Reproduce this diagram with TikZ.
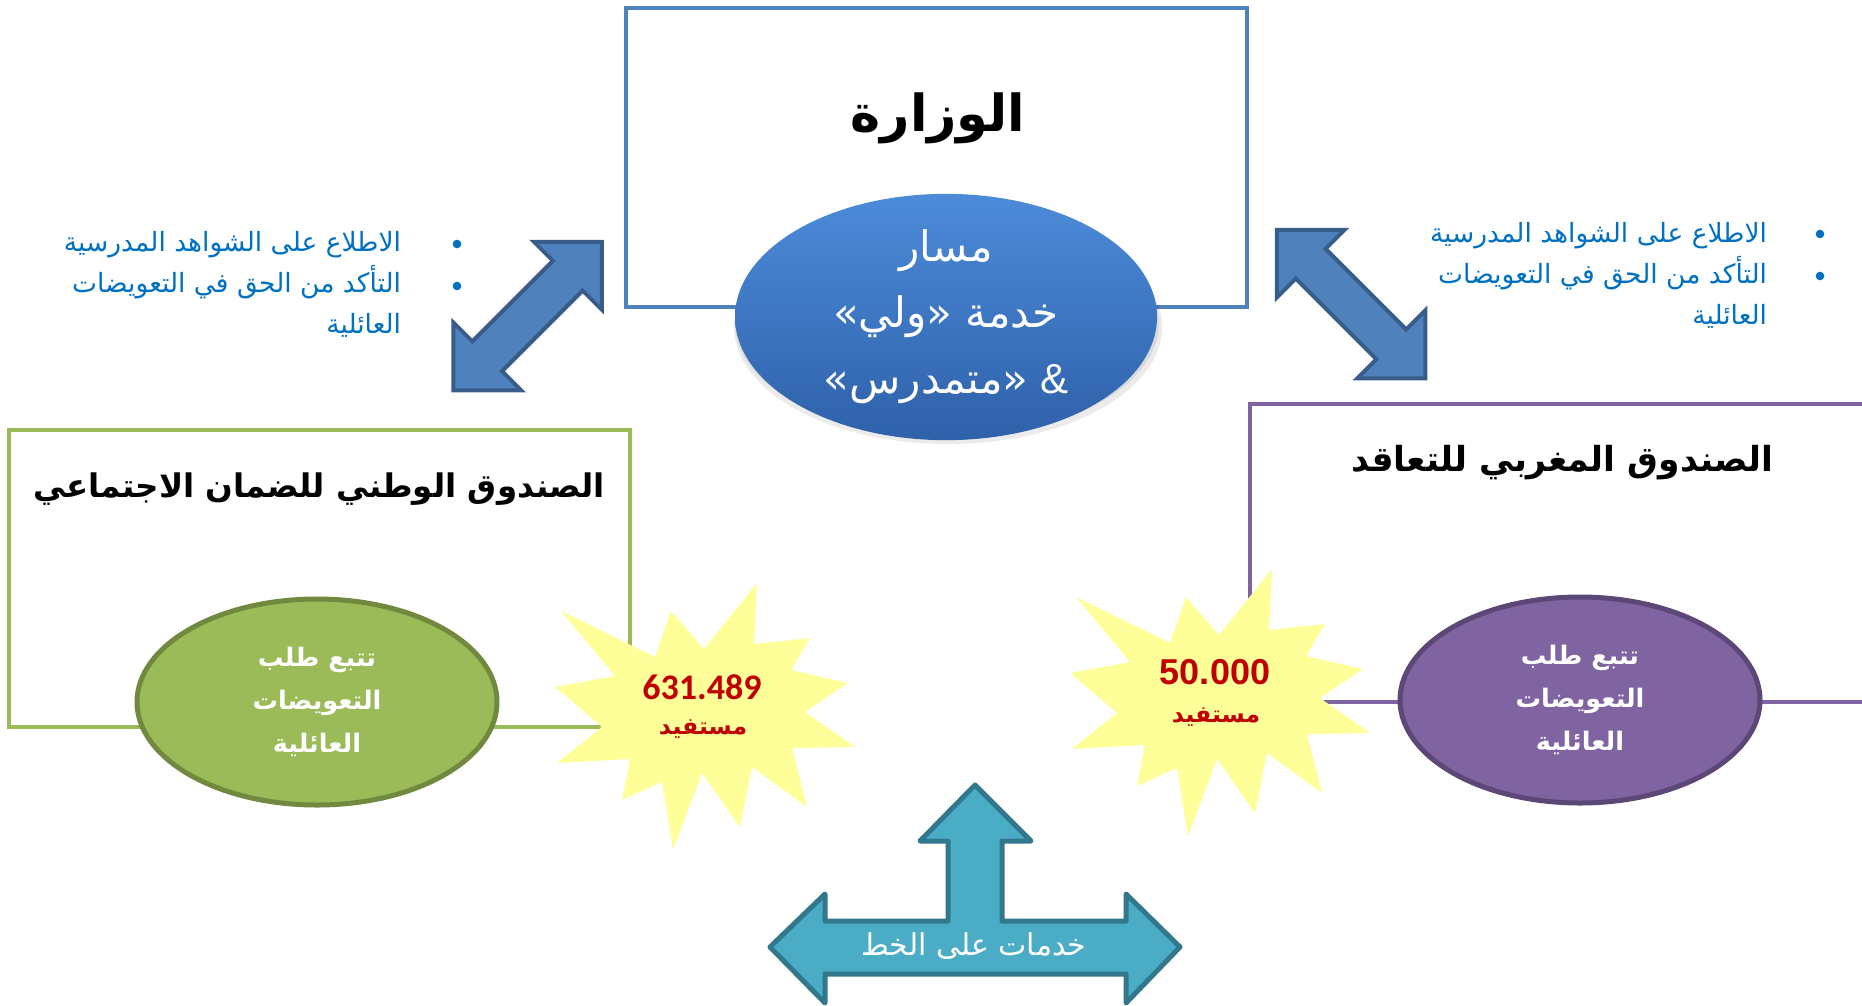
\documentclass[tikz,border=0pt]{standalone}
\usepackage{fontspec}
\setmainfont{Liberation Sans}
\newfontfamily\arfont[Script=Arabic]{DejaVu Sans}
\newfontfamily\carlfont{Carlito}
\TeXXeTstate=1
\newcommand\AR[1]{{\arfont\beginR #1\endR}}
\usetikzlibrary{shapes.geometric}
\definecolor{minblue}{HTML}{4F81BD}
\definecolor{ellTop}{HTML}{4D8BD9}
\definecolor{ellBot}{HTML}{2E61A9}
\definecolor{arrowfill}{HTML}{4F81BD}
\definecolor{arrowdraw}{HTML}{385D8A}
\definecolor{bultext}{HTML}{0070C0}
\definecolor{grn}{HTML}{9BBB59}
\definecolor{grndark}{HTML}{71893F}
\definecolor{purp}{HTML}{8064A2}
\definecolor{purpdark}{HTML}{5C4776}
\definecolor{starfill}{HTML}{FFFF99}
\definecolor{starred}{HTML}{C00000}
\definecolor{teal}{HTML}{4BACC6}
\definecolor{tealdark}{HTML}{31788C}
\begin{document}
\begin{tikzpicture}[x=1pt,y=-1pt,
  every node/.style={inner sep=0pt, outer sep=0pt},
  frame/.style={draw, line width=4, rectangle},
  titletxt/.style={text=black},
  bultxt/.style={font=\fontsize{26.5}{41}\selectfont, text=bultext, align=right},
  ovaltxt/.style={font=\fontsize{25.5}{43}\selectfont\bfseries, text=white, align=center},
  bigarrow/.style={fill=arrowfill, draw=arrowdraw, line width=4, line join=miter},
  bulletdot/.style={fill=bultext},
  starshape/.style={fill=starfill, rounded corners=1.5},
  benef/.style={font=\fontsize{23.5}{30}\selectfont\bfseries, text=starred},
]
\useasboundingbox (0,0) rectangle (1862,1005);
\clip (0,0) rectangle (1862,1005);

% frames
\node[frame, draw=minblue, minimum width=621, minimum height=299] (minbox) at (936.5,157.5) {};
\node[frame, draw=grn, minimum width=621, minimum height=297] (cnssbox) at (319.5,578.5) {};
\node[frame, draw=purp, minimum width=660, minimum height=298] (cmrbox) at (1580,553) {};

% titles
\node[titletxt, font=\fontsize{51}{60}\selectfont\bfseries] (mintitle) at (938,118) {\AR{الوزارة}};
\node[titletxt, font=\fontsize{32.5}{40}\selectfont\bfseries] (cnsstitle) at (319,489) {\AR{الصندوق الوطني للضمان الاجتماعي}};
\node[titletxt, font=\fontsize{34.5}{40}\selectfont\bfseries] (cmrtitle) at (1562,463) {\AR{الصندوق المغربي للتعاقد}};

% double arrows
\begin{scope}[shift={(527.5,316)}, rotate=45]
\path[bigarrow] (105,0) -- (57,48) -- (57,21) -- (-57,21) -- (-57,48) -- (-105,0) -- (-57,-48) -- (-57,-21) -- (57,-21) -- (57,-48) -- cycle;
\end{scope}
\begin{scope}[shift={(1351,304)}, rotate=-45]
\path[bigarrow] (105,0) -- (57,48) -- (57,21) -- (-57,21) -- (-57,48) -- (-105,0) -- (-57,-48) -- (-57,-21) -- (57,-21) -- (57,-48) -- cycle;
\end{scope}

% bullets
\fill[bulletdot] (457,244) circle (4.3);
\fill[bulletdot] (457,286) circle (4.3);
\node[bultxt, anchor=east] (leftbul) at (401,284) {\AR{الاطلاع على الشواهد المدرسية}\\ \AR{التأكد من الحق في التعويضات}\\ \AR{العائلية}};
\fill[bulletdot] (1820,234) circle (4.3);
\fill[bulletdot] (1820,276) circle (4.3);
\node[bultxt, anchor=east] (rightbul) at (1767,275) {\AR{الاطلاع على الشواهد المدرسية}\\ \AR{التأكد من الحق في التعويضات}\\ \AR{العائلية}};

% blue ellipse with shadow
\fill[black, opacity=0.08] (948,327) ellipse [x radius=214, y radius=117];
\fill[black, opacity=0.08] (947,323) ellipse [x radius=212, y radius=115];
\node[ellipse, top color=ellTop, bottom color=ellBot, minimum width=422, minimum height=228,
      font=\fontsize{42}{66}\selectfont, text=white, align=center] (masar) at (946,317)
  {\AR{مسار}\\ \AR{خدمة «ولي»}\\ \AR{«متمدرس»} \&};

% ovals
\node[ellipse, draw=grndark, line width=5, fill=grn, minimum width=360, minimum height=206, ovaltxt] (greenoval) at (317,702)
  {\AR{تتبع طلب}\\ \AR{التعويضات}\\ \AR{العائلية}};
\node[ellipse, draw=purpdark, line width=5, fill=purp, minimum width=360, minimum height=206, ovaltxt] (purpoval) at (1580,700)
  {\AR{تتبع طلب}\\ \AR{التعويضات}\\ \AR{العائلية}};

% starbursts
\foreach \cx/\cy in {705/715, 1220/701}{
\begin{scope}[shift={(\cx,\cy)}]
\path[starshape] (52,-132) -- (49,-71) -- (105,-77) -- (86,-45) -- (143,-32) -- (100,-3) -- (150,32) -- (87,33) -- (102,92) -- (47,52) -- (35,112) -- (-3,58) -- (-32,135) -- (-43,67) -- (-83,85) -- (-75,44) -- (-148,48) -- (-103,12) -- (-150,-28) -- (-90,-39) -- (-144,-104) -- (-50,-58) -- (-34,-104) -- (-1,-66) -- cycle;
\end{scope}
}
\node[font=\fontsize{36}{40}\selectfont\carlfont\bfseries, text=starred] (num1) at (702,687) {631.489};
\node[benef] (ben1) at (703,729) {\AR{مستفيد}};
\node[font=\fontsize{36}{40}\selectfont\bfseries, text=starred] (num2) at (1215,672) {50.000};
\node[benef] (ben2) at (1216,717) {\AR{مستفيد}};

% three-way arrow
\path[fill=teal, draw=tealdark, line width=5, line join=round] (975,785) -- (1031,841) -- (1002,841) -- (1002,921) -- (1126,921) -- (1126,894) -- (1180,947) -- (1126,1003) -- (1126,974) -- (825,974) -- (825,1003) -- (770,947) -- (825,894) -- (825,921) -- (948,921) -- (948,841) -- (920,841) -- cycle;
\node[font=\fontsize{30}{36}\selectfont, text=white] (online) at (974,946) {\AR{خدمات على الخط}};
\end{tikzpicture}
\end{document}
